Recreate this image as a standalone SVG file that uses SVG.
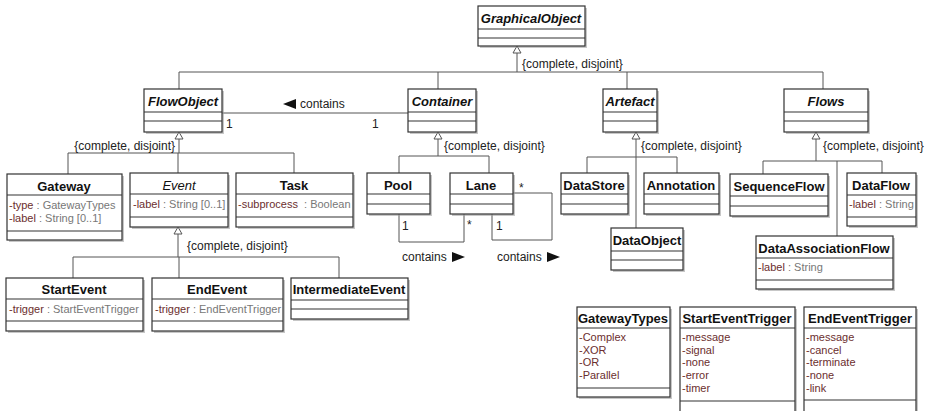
<svg xmlns="http://www.w3.org/2000/svg" width="928" height="411" viewBox="0 0 928 411">
<style>
.bg{fill:#fff}
.box{fill:#fff;stroke:#333;stroke-width:1.2}
.sh{fill:#999;opacity:0.55}
.sep{stroke:#333;stroke-width:1.2}
.t{font-family:"Liberation Sans",Arial,sans-serif;font-size:13px;font-weight:bold;text-anchor:middle;fill:#111}
.ti{font-style:italic}
.tn{font-weight:normal}
.a{font-family:"Liberation Sans",Arial,sans-serif;font-size:11px;fill:#777}
.an{fill:#6b2e2e}
.c{stroke:#555;fill:none;stroke-width:1}
.gen{fill:#fff;stroke:#555;stroke-width:1}
.lbl{font-family:"Liberation Sans",Arial,sans-serif;font-size:12px;fill:#222}
.arr{fill:#111}
</style>
<rect class="bg" x="0" y="0" width="928" height="411"/>

<g id="connectors">
  <!-- GraphicalObject generalization -->
  <path class="c" d="M517,53 V72 M179,72 H823 M179,72 V89 M438,72 V89 M627,72 V89 M823,72 V89"/>
  <path class="gen" d="M517,46 L513,53 L521,53 Z"/>
  <text class="lbl" x="522" y="68">{complete, disjoint}</text>

  <!-- FlowObject generalization -->
  <path class="c" d="M179,139 V153 M68,153 H294 M68,153 V174 M178,153 V173 M294,153 V173"/>
  <path class="gen" d="M179,132 L175,139 L183,139 Z"/>
  <text class="lbl" x="175" y="150" text-anchor="end">{complete, disjoint}</text>

  <!-- Container generalization -->
  <path class="c" d="M438,139 V156 M399,156 H489 M399,156 V173 M489,156 V173"/>
  <path class="gen" d="M438,132 L434,139 L442,139 Z"/>
  <text class="lbl" x="444" y="150">{complete, disjoint}</text>

  <!-- Artefact generalization -->
  <path class="c" d="M636,139 V228 M587,157 H677 M587,157 V173 M677,157 V173"/>
  <path class="gen" d="M636,132 L632,139 L640,139 Z"/>
  <text class="lbl" x="641" y="150">{complete, disjoint}</text>

  <!-- Flows generalization -->
  <path class="c" d="M816,139 V161 M763,161 H882 M763,161 V174 M882,161 V173 M837,161 V236"/>
  <path class="gen" d="M816,132 L812,139 L820,139 Z"/>
  <text class="lbl" x="823" y="150">{complete, disjoint}</text>

  <!-- Event generalization -->
  <path class="c" d="M178,234 V257 M73,257 H339 M73,257 V278 M179,257 V278 M339,257 V278"/>
  <path class="gen" d="M178,227 L174,234 L182,234 Z"/>
  <text class="lbl" x="187" y="250">{complete, disjoint}</text>

  <!-- FlowObject - Container association -->
  <path class="c" d="M222,113 H408"/>
  <path class="arr" d="M283,104 L296,99 L296,109 Z"/>
  <text class="lbl" x="300" y="108">contains</text>
  <text class="lbl" x="226" y="128">1</text>
  <text class="lbl" x="372" y="128">1</text>

  <!-- Pool - Lane association -->
  <path class="c" d="M399,214 V242 H464 V214"/>
  <text class="lbl" x="402" y="230">1</text>
  <text class="lbl" x="467" y="229">*</text>
  <text class="lbl" x="402" y="261">contains</text>
  <path class="arr" d="M465,257 L452,252 L452,262 Z"/>

  <!-- Lane self association -->
  <path class="c" d="M492,214 V240 H552 V193 H513"/>
  <text class="lbl" x="496" y="230">1</text>
  <text class="lbl" x="519" y="192">*</text>
  <text class="lbl" x="497" y="261">contains</text>
  <path class="arr" d="M560,257 L547,252 L547,262 Z"/>
</g>

<g id="GraphicalObject">
  <rect class="sh" x="480" y="8" width="107" height="40"/>
  <rect class="box" x="478" y="6" width="107" height="40"/>
  <path class="sep" d="M478,29 H585 M478,38 H585"/>
  <text class="t ti" x="531" y="23">GraphicalObject</text>
</g>

<g id="FlowObject">
  <rect class="sh" x="146" y="91" width="78" height="43"/>
  <rect class="box" x="144" y="89" width="78" height="43"/>
  <path class="sep" d="M144,112 H222 M144,121 H222"/>
  <text class="t ti" x="183" y="106">FlowObject</text>
</g>

<g id="Container">
  <rect class="sh" x="410" y="91" width="68" height="43"/>
  <rect class="box" x="408" y="89" width="68" height="43"/>
  <path class="sep" d="M408,112 H476 M408,121 H476"/>
  <text class="t ti" x="442" y="106">Container</text>
</g>

<g id="Artefact">
  <rect class="sh" x="605" y="91" width="54" height="43"/>
  <rect class="box" x="603" y="89" width="54" height="43"/>
  <path class="sep" d="M603,112 H657 M603,121 H657"/>
  <text class="t ti" x="630" y="106">Artefact</text>
</g>

<g id="Flows">
  <rect class="sh" x="786" y="91" width="84" height="43"/>
  <rect class="box" x="784" y="89" width="84" height="43"/>
  <path class="sep" d="M784,112 H868 M784,121 H868"/>
  <text class="t ti" x="826" y="106">Flows</text>
</g>

<g id="Gateway">
  <rect class="sh" x="9" y="176" width="115" height="66"/>
  <rect class="box" x="7" y="174" width="115" height="66"/>
  <path class="sep" d="M7,195 H122 M7,231 H122"/>
  <text class="t" x="64" y="191">Gateway</text>
  <text class="a" x="9" y="209"><tspan class="an">-type</tspan> : GatewayTypes</text>
  <text class="a" x="9" y="222"><tspan class="an">-label</tspan> : String [0..1]</text>
</g>

<g id="Event">
  <rect class="sh" x="132" y="175" width="98" height="54"/>
  <rect class="box" x="130" y="173" width="98" height="54"/>
  <path class="sep" d="M130,194 H228 M130,217 H228"/>
  <text class="t ti tn" x="179" y="190">Event</text>
  <text class="a" x="133" y="208"><tspan class="an">-label</tspan> : String [0..1]</text>
</g>

<g id="Task">
  <rect class="sh" x="238" y="175" width="117" height="54"/>
  <rect class="box" x="236" y="173" width="117" height="54"/>
  <path class="sep" d="M236,194 H353 M236,217 H353"/>
  <text class="t" x="294" y="190">Task</text>
  <text class="a" x="238" y="208" xml:space="preserve"><tspan class="an">-subprocess</tspan>  : Boolean</text>
</g>

<g id="StartEvent">
  <rect class="sh" x="8" y="280" width="137" height="53"/>
  <rect class="box" x="6" y="278" width="137" height="53"/>
  <path class="sep" d="M6,299 H143 M6,321 H143"/>
  <text class="t" x="74" y="294">StartEvent</text>
  <text class="a" x="9" y="313"><tspan class="an">-trigger</tspan> : StartEventTrigger</text>
</g>

<g id="EndEvent">
  <rect class="sh" x="154" y="280" width="131" height="53"/>
  <rect class="box" x="152" y="278" width="131" height="53"/>
  <path class="sep" d="M152,299 H283 M152,321 H283"/>
  <text class="t" x="217" y="294">EndEvent</text>
  <text class="a" x="155" y="313"><tspan class="an">-trigger</tspan> : EndEventTrigger</text>
</g>

<g id="IntermediateEvent">
  <rect class="sh" x="293" y="280" width="117" height="41"/>
  <rect class="box" x="291" y="278" width="117" height="41"/>
  <path class="sep" d="M291,300 H408 M291,309 H408"/>
  <text class="t" x="349" y="294">IntermediateEvent</text>
</g>

<g id="Pool">
  <rect class="sh" x="369" y="175" width="63" height="41"/>
  <rect class="box" x="367" y="173" width="63" height="41"/>
  <path class="sep" d="M367,194 H430 M367,204 H430"/>
  <text class="t" x="398" y="190">Pool</text>
</g>

<g id="Lane">
  <rect class="sh" x="452" y="175" width="63" height="41"/>
  <rect class="box" x="450" y="173" width="63" height="41"/>
  <path class="sep" d="M450,194 H513 M450,204 H513"/>
  <text class="t" x="481" y="190">Lane</text>
</g>

<g id="DataStore">
  <rect class="sh" x="563" y="175" width="67" height="41"/>
  <rect class="box" x="561" y="173" width="67" height="41"/>
  <path class="sep" d="M561,194 H628 M561,204 H628"/>
  <text class="t" x="594" y="190">DataStore</text>
</g>

<g id="Annotation">
  <rect class="sh" x="646" y="175" width="75" height="41"/>
  <rect class="box" x="644" y="173" width="75" height="41"/>
  <path class="sep" d="M644,194 H719 M644,204 H719"/>
  <text class="t" x="681" y="190">Annotation</text>
</g>

<g id="DataObject">
  <rect class="sh" x="613" y="230" width="72" height="42"/>
  <rect class="box" x="611" y="228" width="72" height="42"/>
  <path class="sep" d="M611,251 H683 M611,260 H683"/>
  <text class="t" x="647" y="245">DataObject</text>
</g>

<g id="SequenceFlow">
  <rect class="sh" x="732" y="176" width="98" height="42"/>
  <rect class="box" x="730" y="174" width="98" height="42"/>
  <path class="sep" d="M730,196 H828 M730,206 H828"/>
  <text class="t" x="779" y="191">SequenceFlow</text>
</g>

<g id="DataFlow">
  <rect class="sh" x="849" y="175" width="69" height="53"/>
  <rect class="box" x="847" y="173" width="69" height="53"/>
  <path class="sep" d="M847,195 H916 M847,217 H916"/>
  <text class="t" x="881" y="190">DataFlow</text>
  <text class="a" x="849" y="208"><tspan class="an">-label</tspan> : String</text>
</g>

<g id="DataAssociationFlow">
  <rect class="sh" x="758" y="238" width="137" height="53"/>
  <rect class="box" x="756" y="236" width="137" height="53"/>
  <path class="sep" d="M756,258 H893 M756,280 H893"/>
  <text class="t" x="824" y="253">DataAssociationFlow</text>
  <text class="a" x="758" y="271"><tspan class="an">-label</tspan> : String</text>
</g>

<g id="GatewayTypes">
  <rect class="sh" x="579" y="309" width="93" height="90"/>
  <rect class="box" x="577" y="307" width="93" height="90"/>
  <path class="sep" d="M577,328 H670 M577,388 H670"/>
  <text class="t" x="623" y="323">GatewayTypes</text>
  <text class="a an" x="579" y="341">-Complex</text>
  <text class="a an" x="579" y="354">-XOR</text>
  <text class="a an" x="579" y="366">-OR</text>
  <text class="a an" x="579" y="379">-Parallel</text>
</g>

<g id="StartEventTrigger">
  <rect class="sh" x="682" y="309" width="115" height="108"/>
  <rect class="box" x="680" y="307" width="115" height="108"/>
  <path class="sep" d="M680,328 H795 M680,401 H795"/>
  <text class="t" x="737" y="323">StartEventTrigger</text>
  <text class="a an" x="682" y="341">-message</text>
  <text class="a an" x="682" y="354">-signal</text>
  <text class="a an" x="682" y="366">-none</text>
  <text class="a an" x="682" y="379">-error</text>
  <text class="a an" x="682" y="392">-timer</text>
</g>

<g id="EndEventTrigger">
  <rect class="sh" x="806" y="309" width="112" height="108"/>
  <rect class="box" x="804" y="307" width="112" height="108"/>
  <path class="sep" d="M804,328 H916 M804,400 H916"/>
  <text class="t" x="860" y="323">EndEventTrigger</text>
  <text class="a an" x="806" y="341">-message</text>
  <text class="a an" x="806" y="354">-cancel</text>
  <text class="a an" x="806" y="366">-terminate</text>
  <text class="a an" x="806" y="379">-none</text>
  <text class="a an" x="806" y="392">-link</text>
</g>
</svg>
